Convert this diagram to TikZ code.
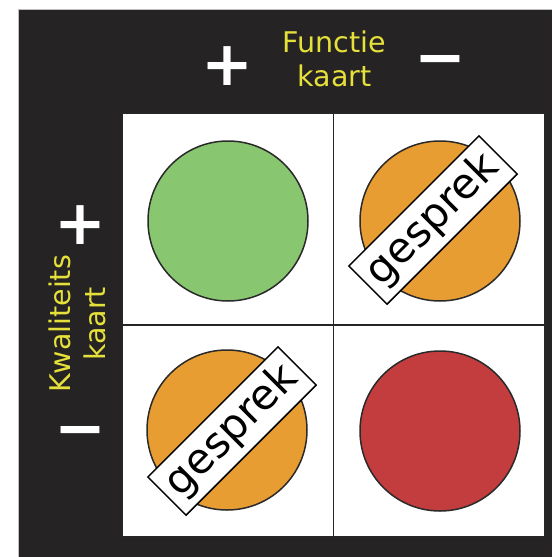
\documentclass[tikz,border=0pt]{standalone}
\usepackage{fontspec}
\setmainfont{DejaVu Sans}
\definecolor{bgblack}{HTML}{252324}
\definecolor{labyellow}{HTML}{E6E13A}
\definecolor{discgreen}{HTML}{88C670}
\definecolor{discorange}{HTML}{E89D33}
\definecolor{discred}{HTML}{C43D3E}
\definecolor{discedge}{HTML}{2A2A2A}
\begin{document}
\begin{tikzpicture}[x=1pt,y=-1pt,
  lab/.style={text=labyellow, font=\fontsize{28.5}{34}\selectfont, inner sep=0pt, anchor=base},
  sign/.style={text=white, font=\fontsize{62}{62}\selectfont\bfseries, inner sep=0pt},
  disc/.style={circle, draw=discedge, line width=1.5pt, minimum size=160pt, inner sep=0pt},
  talk/.style={draw=black, fill=white, line width=1.5pt, rotate=45, minimum width=184pt, minimum height=54pt, inner sep=0pt, font=\fontsize{42}{42}\selectfont},
  gridline/.style={draw=black!85, line width=1.5pt}]
\useasboundingbox (0,0) rectangle (552,557);
\fill[white] (0,0) rectangle (552,557);
\fill[bgblack] (18,9) rectangle (552,557);
\draw[gray!50, line width=0.8pt] (18,557) |- (552,9);
% grid
\filldraw[fill=white, gridline] (122,113) rectangle (545,537);
\draw[gridline] (333.5,113) -- (333.5,537);
\draw[gridline] (122,325) -- (545,325);
% discs
\node[disc, fill=discgreen] (green) at (228,221) {};
\node[disc, fill=discorange] (orangeTR) at (440,221) {};
\node[talk] (talkTR) at (433,220) {gesprek};
\node[disc, fill=discorange] (orangeBL) at (227,430) {};
\node[talk] (talkBL) at (232,431) {gesprek};
\node[disc, fill=discred] (red) at (440,431) {};
% labels
\node[lab] (functie) at (334.5,52) {Functie};
\node[lab] (kaart1) at (334.5,86) {kaart};
\node[lab, rotate=90] (kwal) at (70,324) {Kwaliteits};
\node[lab, rotate=90] (kaart2) at (105,324) {kaart};
% signs
\node[sign] (plusF) at (227,66) {+};
\node[sign] (minusF) at (440,67) {−};
\node[sign] (plusK) at (80.5,225) {+};
\node[sign] (minusK) at (80,438) {−};
\end{tikzpicture}
\end{document}
